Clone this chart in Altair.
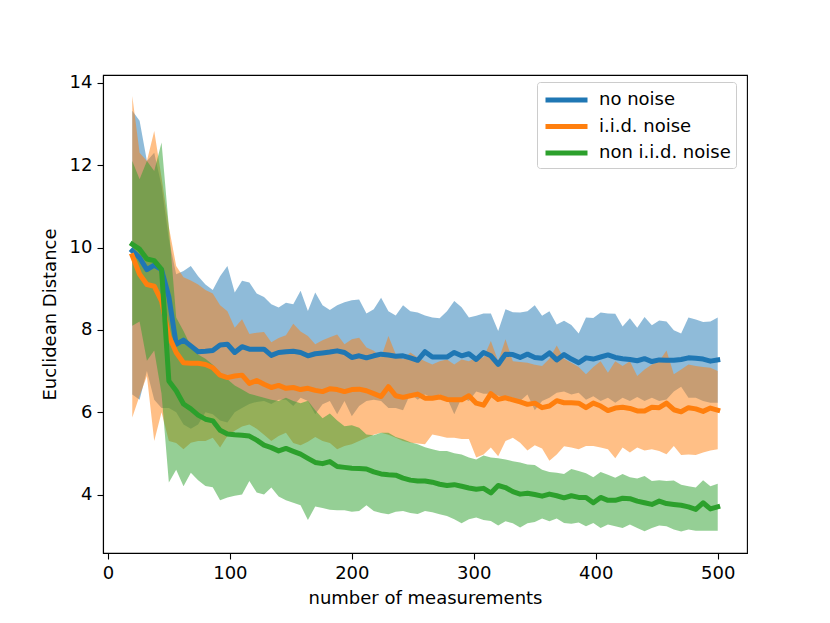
import altair as alt
import pandas as pd

# x positions: number of measurements (20, 26, ..., 500)
x_vals = list(range(20, 501, 6))

series_names = ["no noise", "i.i.d. noise", "non i.i.d. noise"]
series_colors = ["#1f77b4", "#ff7f0e", "#2ca02c"]

blue_mean = [9.92, 9.75, 9.46, 9.57, 9.46, 8.8, 7.65, 7.75, 7.61, 7.47, 7.48, 7.5, 7.63, 7.65, 7.45, 7.59, 7.53,
             7.53, 7.53, 7.38, 7.45, 7.47, 7.48, 7.45, 7.37, 7.42, 7.44, 7.46, 7.49, 7.45, 7.33, 7.37, 7.32, 7.37,
             7.41, 7.39, 7.36, 7.37, 7.32, 7.26, 7.47, 7.34, 7.34, 7.34, 7.45, 7.37, 7.42, 7.28, 7.45, 7.37, 7.16,
             7.41, 7.40, 7.33, 7.41, 7.33, 7.31, 7.44, 7.27, 7.40, 7.29, 7.2, 7.32, 7.29, 7.34, 7.39, 7.33, 7.3,
             7.28, 7.25, 7.3, 7.23, 7.27, 7.26, 7.26, 7.28, 7.32, 7.31, 7.29, 7.24, 7.27]
blue_upper = [13.32, 13.08, 12.1, 12.3, 11.5, 10.2, 9.35, 9.43, 9.55, 9.3, 9.1, 8.97, 9.3, 9.55, 8.91, 9.19, 9.15,
              8.88, 8.8, 8.62, 8.54, 8.66, 8.62, 8.95, 8.46, 8.91, 8.6, 8.48, 8.6, 8.67, 8.72, 8.74, 8.4, 8.5,
              8.78, 8.45, 8.35, 8.6, 8.45, 8.42, 8.35, 8.3, 8.28, 8.45, 8.7, 8.55, 8.3, 8.34, 8.4, 8.4, 7.97,
              8.5, 8.43, 8.42, 8.45, 8.6, 8.34, 8.45, 8.13, 8.22, 8.12, 7.91, 8.30, 8.29, 8.42, 8.4, 8.39, 8.08,
              8.28, 8.05, 8.31, 8.11, 8.23, 8.2, 7.99, 7.91, 8.3, 8.25, 8.19, 8.2, 8.3]
blue_lower = [6.43, 6.3, 7.0, 6.3, 6.1, 6.1, 6.0, 5.7, 5.6, 5.7, 6.0, 5.95, 5.8, 5.75, 6.0, 6.1, 6.2, 6.25, 6.27,
              6.2, 6.3, 6.3, 6.15, 6.35, 6.27, 5.95, 6.19, 6.27, 5.95, 6.27, 5.9, 6.15, 6.27, 6.3, 6.27, 6.1,
              6.1, 6.05, 6.45, 6.3, 6.43, 6.35, 6.43, 6.35, 5.95, 6.35, 6.27, 6.5, 6.45, 6.45, 6.4, 6.35, 6.35,
              6.27, 6.43, 6.05, 6.27, 6.35, 6.47, 6.5, 6.43, 6.47, 6.3, 6.39, 6.27, 6.35, 6.23, 6.35, 6.27,
              6.37, 6.27, 6.35, 6.27, 6.31, 6.5, 6.62, 6.35, 6.35, 6.27, 6.23, 6.23]

orange_mean = [9.8, 9.35, 9.1, 9.06, 8.7, 7.85, 7.45, 7.2, 7.19, 7.19, 7.16, 7.08, 6.9, 6.84, 6.88, 6.9, 6.7,
               6.77, 6.68, 6.6, 6.65, 6.58, 6.6, 6.55, 6.58, 6.53, 6.5, 6.57, 6.55, 6.5, 6.55, 6.56, 6.52, 6.45,
               6.38, 6.62, 6.4, 6.36, 6.4, 6.44, 6.34, 6.34, 6.37, 6.31, 6.3, 6.3, 6.4, 6.22, 6.17, 6.45, 6.31,
               6.35, 6.3, 6.25, 6.19, 6.22, 6.11, 6.15, 6.28, 6.23, 6.23, 6.22, 6.11, 6.22, 6.15, 6.04, 6.1,
               6.12, 6.09, 6.03, 6.03, 6.12, 6.11, 6.22, 6.06, 6.01, 6.11, 6.08, 6.02, 6.1, 6.05]
orange_upper = [13.68, 12.3, 12.1, 12.83, 11.7, 10.5, 9.55, 9.28, 9.2, 9.1, 8.97, 8.88, 8.6, 8.45, 8.05, 8.26,
                7.9, 7.93, 7.95, 7.7, 7.8, 7.87, 8.15, 7.96, 7.85, 7.65, 7.75, 7.82, 7.89, 7.65, 7.77, 7.81,
                7.57, 7.49, 7.33, 7.85, 7.41, 7.28, 7.45, 7.33, 7.24, 7.16, 7.24, 7.28, 7.16, 7.28, 7.24, 7.33,
                7.33, 7.73, 7.24, 7.77, 7.24, 7.22, 7.2, 7.15, 7.12, 7.3, 7.62, 7.3, 7.2, 7.1, 6.92, 7.1, 7.24,
                6.96, 7.24, 7.12, 7.24, 6.88, 7.04, 7.16, 7.24, 7.5, 6.92, 7.04, 7.16, 7.12, 7.1, 7.08, 7.0]
orange_lower = [5.87, 6.4, 6.88, 5.3, 6.0, 5.3, 5.25, 5.1, 5.26, 5.3, 5.3, 5.38, 5.14, 5.42, 5.55, 5.65, 5.7,
                5.6, 5.45, 5.3, 5.42, 5.5, 5.25, 5.2, 5.28, 5.4, 5.3, 5.25, 5.1, 5.18, 5.22, 5.3, 5.38, 5.45,
                5.5, 5.45, 5.38, 5.3, 5.26, 5.24, 5.22, 5.46, 5.42, 5.38, 5.38, 5.35, 5.35, 4.9, 4.97, 5.14,
                4.93, 5.3, 5.38, 5.26, 5.07, 5.2, 5.12, 4.82, 4.97, 5.17, 5.14, 5.1, 5.18, 5.18, 5.14, 5.1,
                4.88, 5.14, 5.02, 5.14, 5.07, 5.1, 5.06, 4.98, 5.18, 4.96, 4.97, 4.96, 5.02, 5.07, 5.1]

green_mean = [10.08, 9.96, 9.72, 9.68, 9.47, 6.76, 6.52, 6.2, 6.08, 5.93, 5.83, 5.79, 5.56, 5.47, 5.45, 5.44,
              5.42, 5.32, 5.2, 5.14, 5.06, 5.12, 5.05, 4.98, 4.88, 4.78, 4.75, 4.8, 4.68, 4.66, 4.64, 4.63,
              4.62, 4.55, 4.5, 4.48, 4.47, 4.4, 4.35, 4.33, 4.33, 4.3, 4.25, 4.22, 4.24, 4.2, 4.16, 4.13,
              4.15, 4.04, 4.22, 4.17, 4.07, 4.01, 4.03, 4.0, 3.96, 4.01, 3.97, 3.92, 3.97, 3.93, 3.93, 3.8,
              3.93, 3.86, 3.86, 3.91, 3.9, 3.84, 3.8, 3.76, 3.84, 3.78, 3.76, 3.74, 3.7, 3.64, 3.8, 3.65, 3.7]
green_upper = [12.1, 11.66, 12.1, 11.86, 12.55, 10.5, 8.3, 7.97, 7.6, 7.4, 7.3, 7.15, 6.96, 6.8, 6.65, 6.55,
               6.45, 6.4, 6.35, 6.3, 6.27, 6.35, 6.27, 6.22, 6.28, 6.05, 5.85, 5.97, 5.8, 5.66, 5.68, 5.62,
               5.46, 5.44, 5.5, 5.5, 5.4, 5.34, 5.27, 5.22, 5.15, 5.1, 5.06, 5.06, 5.0, 4.97, 4.9, 4.85, 4.95,
               4.9, 4.88, 4.85, 4.81, 4.78, 4.73, 4.72, 4.6, 4.55, 4.53, 4.5, 4.62, 4.57, 4.52, 4.42, 4.55,
               4.48, 4.41, 4.5, 4.42, 4.39, 4.45, 4.33, 4.35, 4.33, 4.34, 4.24, 4.2, 4.17, 4.35, 4.2, 4.26]
green_lower = [8.1, 8.2, 7.25, 7.5, 6.45, 4.29, 4.6, 4.2, 4.53, 4.35, 4.21, 4.18, 3.86, 3.93, 3.97, 4.0, 4.33,
               4.05, 4.0, 4.17, 3.95, 3.86, 3.8, 3.74, 3.38, 3.71, 3.67, 3.63, 3.62, 3.62, 3.58, 3.6, 3.74,
               3.6, 3.55, 3.52, 3.58, 3.6, 3.55, 3.53, 3.6, 3.57, 3.52, 3.48, 3.4, 3.3, 3.4, 3.44, 3.38, 3.36,
               3.25, 3.35, 3.3, 3.2, 3.3, 3.33, 3.42, 3.35, 3.42, 3.31, 3.29, 3.32, 3.23, 3.31, 3.19, 3.27,
               3.23, 3.19, 3.27, 3.19, 3.11, 3.19, 3.25, 3.23, 3.15, 3.1, 3.15, 3.12, 3.12, 3.12, 3.12]

x_ticks = [0, 100, 200, 300, 400, 500]
y_ticks = [4, 6, 8, 10, 12, 14]

FONT = "DejaVu Sans"


def frame(name, mean, lo, hi):
    return pd.DataFrame({"x": x_vals, "mean": mean, "lo": lo, "hi": hi, "series": name})


frames = [
    frame(series_names[0], blue_mean, blue_lower, blue_upper),
    frame(series_names[1], orange_mean, orange_lower, orange_upper),
    frame(series_names[2], green_mean, green_lower, green_upper),
]

x_scale = alt.Scale(domain=[-4, 524], nice=False, zero=False)
y_scale = alt.Scale(domain=[2.58, 14.19], nice=False, zero=False)
color_scale = alt.Scale(domain=series_names, range=series_colors)

x_axis = alt.Axis(values=x_ticks, title="number of measurements", grid=False, format="d")
y_axis = alt.Axis(values=y_ticks, title="Euclidean Distance", grid=False, format="d")

areas = []
lines = []
for df, col in zip(frames, series_colors):
    areas.append(
        alt.Chart(df).mark_area(color=col, opacity=0.5, interpolate="linear").encode(
            x=alt.X("x:Q", scale=x_scale, axis=x_axis),
            y=alt.Y("lo:Q", scale=y_scale, axis=y_axis),
            y2="hi:Q",
        )
    )
    lines.append(
        alt.Chart(df).mark_line(strokeWidth=5, strokeJoin="round", strokeCap="square").encode(
            x=alt.X("x:Q", scale=x_scale, axis=x_axis),
            y=alt.Y("mean:Q", scale=y_scale, axis=y_axis),
            color=alt.Color(
                "series:N",
                scale=color_scale,
                legend=alt.Legend(
                    title=None,
                    orient="none",
                    legendX=434,
                    legendY=7,
                    symbolType="M-3,0H1",
                    symbolSize=441,
                    symbolStrokeWidth=5,
                    symbolOffset=22,
                    labelFontSize=18,
                    labelFont=FONT,
                    labelColor="black",
                    labelOffset=9,
                    rowPadding=3.5,
                    padding=5,
                    fillColor="white",
                    strokeColor="#cccccc",
                    cornerRadius=3,
                ),
            ),
        )
    )

chart = (
    alt.layer(*areas, *lines)
    .properties(
        width=644,
        height=478,
        background="white",
        autosize=alt.AutoSizeParams(type="none"),
        padding={"left": 95, "top": 67, "right": 60, "bottom": 60},
    )
    .configure_view(stroke="black", strokeWidth=1.1)
    .configure_axis(
        domainColor="black",
        domainWidth=1.1,
        tickColor="black",
        tickWidth=1.1,
        tickSize=6,
        labelPadding=5,
        labelFont=FONT,
        labelFontSize=18,
        labelColor="black",
        titleFont=FONT,
        titleFontSize=18,
        titleFontWeight="normal",
        titleColor="black",
    )
    .configure_axisX(titlePadding=7)
    .configure_axisY(titlePadding=10)
)

chart.save("out.html", embed_options={"renderer": "svg", "actions": False})
